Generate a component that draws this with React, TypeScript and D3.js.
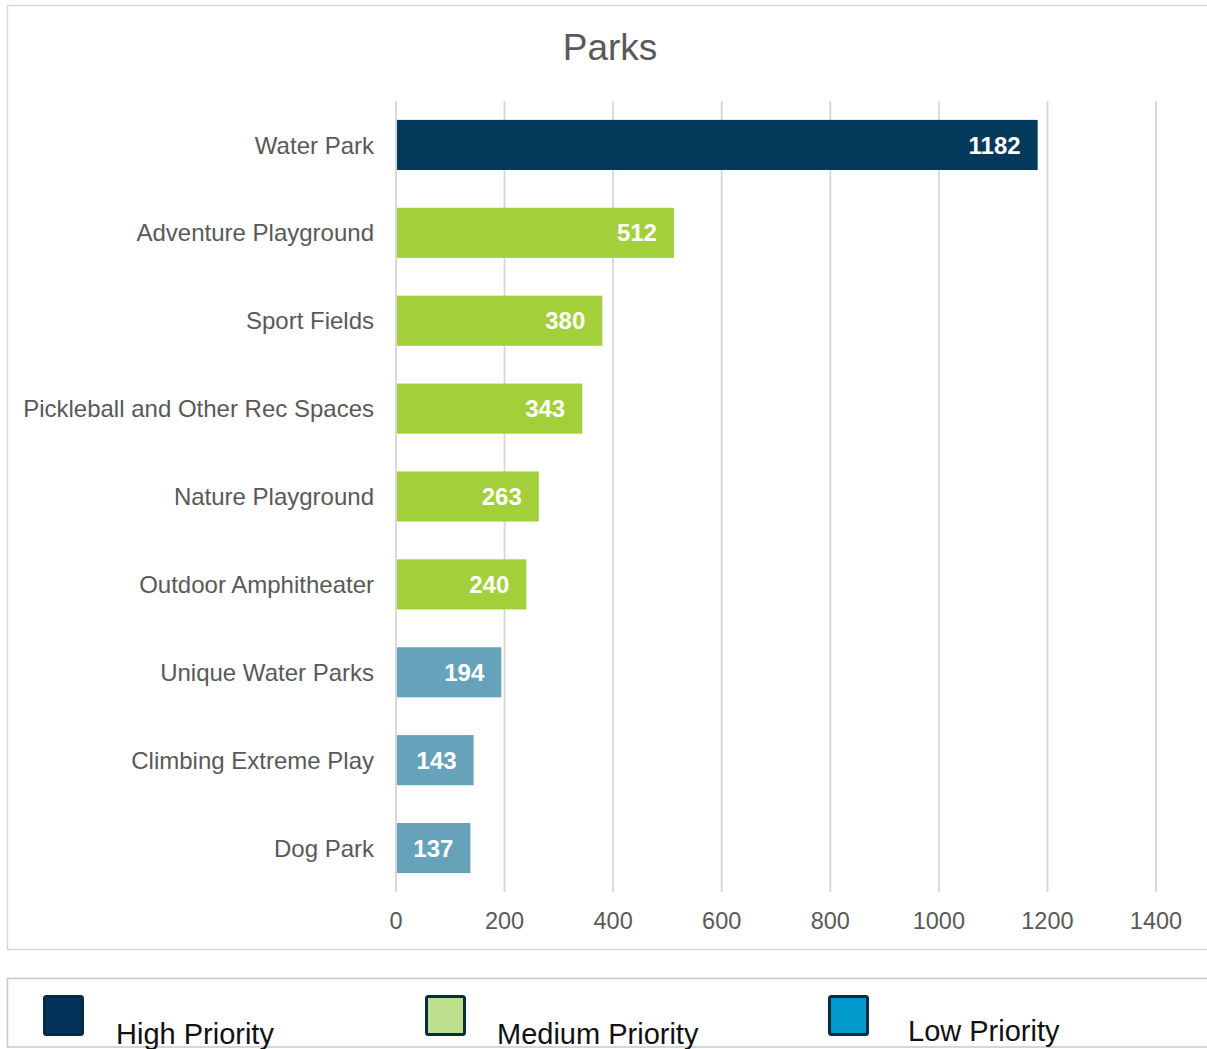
import React from 'react';
import * as d3 from 'd3';

const categories = [
  'Water Park',
  'Adventure Playground',
  'Sport Fields',
  'Pickleball and Other Rec Spaces',
  'Nature Playground',
  'Outdoor Amphitheater',
  'Unique Water Parks',
  'Climbing Extreme Play',
  'Dog Park',
];
const values = [1182, 512, 380, 343, 263, 240, 194, 143, 137];
const priorities = ['high', 'medium', 'medium', 'medium', 'medium', 'medium', 'low', 'low', 'low'];
const xTicks = [0, 200, 400, 600, 800, 1000, 1200, 1400];

const barColors: Record<string, string> = {
  high: '#033a5c',
  medium: '#a2cf3a',
  low: '#66a3ba',
};

const legendItems = [
  { label: 'High Priority', fill: '#03335b', stroke: '#012a45' },
  { label: 'Medium Priority', fill: '#bddf8e', stroke: '#062c42' },
  { label: 'Low Priority', fill: '#0099cc', stroke: '#062c42' },
];

const W = 1207;
const H = 1049;
const FONT = 'Liberation Sans, Arial, sans-serif';

export default function App() {
  const x = d3.scaleLinear().domain([0, 1400]).range([396, 1156]);
  const y = d3.scaleBand<string>().domain(categories).range([101, 892]).paddingInner(0.43).paddingOuter(0.215);

  const legendX = [43, 425, 828];
  const legendTextX = [116, 497, 908];

  return (
    <svg width={W} height={H} style={{ position: 'absolute', left: 0, top: 0, background: '#fff' }}>
      <rect x={7.5} y={5.5} width={W + 10} height={944} fill="#fff" stroke="#d9d9d9" strokeWidth={1.5} />
      <text x={610} y={60} textAnchor="middle" fontFamily={FONT} fontSize={37} fill="#595959">
        Parks
      </text>
      {xTicks.map((t) => (
        <g key={t}>
          <line x1={x(t)} x2={x(t)} y1={101} y2={892} stroke="#d9d9d9" strokeWidth={2} />
          <text x={x(t)} y={929} textAnchor="middle" fontFamily={FONT} fontSize={23.5} fill="#595959">
            {t}
          </text>
        </g>
      ))}
      {categories.map((c, i) => (
        <g key={c}>
          <rect
            x={x(0) + 1}
            y={y(c)}
            width={x(values[i]) - x(0) - 1}
            height={y.bandwidth()}
            fill={barColors[priorities[i]]}
          />
          <text
            x={x(values[i]) - 17}
            y={(y(c) as number) + y.bandwidth() / 2}
            dy="0.36em"
            textAnchor="end"
            fontFamily={FONT}
            fontSize={24}
            fontWeight="bold"
            fill="#fff"
          >
            {values[i]}
          </text>
          <text
            x={374}
            y={(y(c) as number) + y.bandwidth() / 2}
            dy="0.36em"
            textAnchor="end"
            fontFamily={FONT}
            fontSize={24}
            fill="#595959"
          >
            {c}
          </text>
        </g>
      ))}
      <rect x={7.5} y={978.5} width={W + 10} height={68.5} fill="#fff" stroke="#c8c8c8" strokeWidth={1.5} />
      {legendItems.map((d, i) => (
        <g key={d.label}>
          <rect
            x={legendX[i] + 1.5}
            y={996.5}
            width={38}
            height={38}
            rx={2}
            fill={d.fill}
            stroke={d.stroke}
            strokeWidth={3}
          />
          <text x={legendTextX[i]} y={i === 2 ? 1041 : 1044} fontFamily={FONT} fontSize={29} fill="#111">
            {d.label}
          </text>
        </g>
      ))}
    </svg>
  );
}
